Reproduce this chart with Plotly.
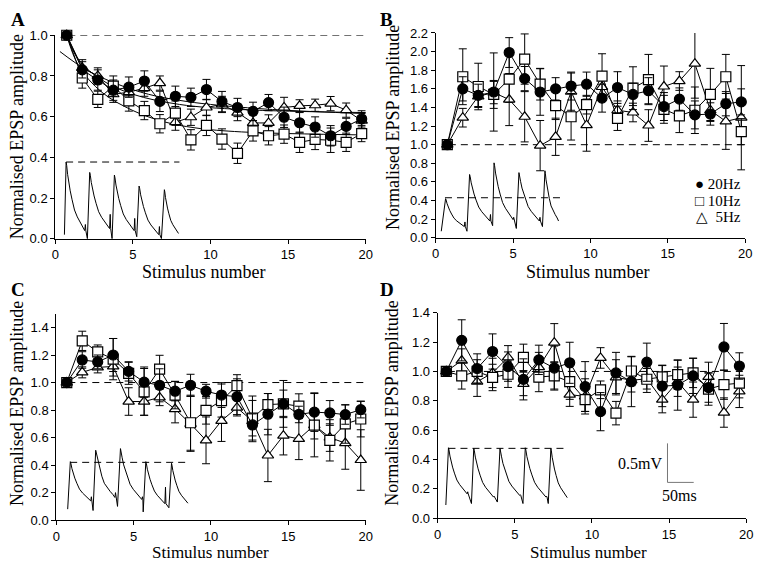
import plotly.graph_objects as go

# stimulus numbers and the small shift each panel plots them with
stim = list(range(1, 21))
x_shift = {"A": 0.26, "B": 0.25, "C": 0.32, "D": 0.44}

# ---- panel A
A_20 = [1.0, 0.83, 0.78, 0.73, 0.745, 0.775, 0.675, 0.70, 0.695, 0.733,
        0.674, 0.645, 0.626, 0.669, 0.597, 0.57, 0.549, 0.506, 0.552, 0.589]
A_10 = [1.0, 0.79, 0.685, 0.75, 0.677, 0.63, 0.565, 0.617, 0.486, 0.557,
        0.49, 0.42, 0.53, 0.506, 0.514, 0.474, 0.488, 0.484, 0.474, 0.517]
A_5 = [1.0, 0.84, 0.80, 0.71, 0.72, 0.74, 0.765, 0.573, 0.597, 0.645,
       0.66, 0.62, 0.569, 0.569, 0.645, 0.653, 0.656, 0.664, 0.632, 0.58]
A_20_err = [0, 0.04, 0.05, 0.05, 0.05, 0.05, 0.05, 0.05, 0.045, 0.05,
            0.05, 0.045, 0.045, 0.04, 0.05, 0.05, 0.05, 0.05, 0.04, 0.04]
A_10_err = [0, 0.05, 0.04, 0.05, 0.05, 0.045, 0.045, 0.06, 0.05, 0.05,
            0.05, 0.05, 0.05, 0.045, 0.045, 0.05, 0.05, 0.06, 0.045, 0.04]
A_5_err = [0, 0.04, 0.04, 0.04, 0.04, 0.04, 0.035, 0.04, 0.04, 0.04,
           0.04, 0.04, 0.04, 0.04, 0.05, 0.03, 0.03, 0.035, 0.035, 0.04]
# fitted decay curves in A
fit_20_x = [0.3, 2, 4, 6, 8, 10, 14, 20]
fit_20_y = [0.92, 0.83, 0.76, 0.71, 0.68, 0.66, 0.635, 0.615]
fit_10_x = [0.74, 1.5, 3, 5, 7, 9, 12, 20]
fit_10_y = [1.0, 0.85, 0.72, 0.63, 0.575, 0.545, 0.525, 0.51]
fit_5_x = [0.74, 1.5, 3, 5, 8, 12, 20]
fit_5_y = [1.0, 0.88, 0.78, 0.71, 0.66, 0.635, 0.62]

# ---- panel B
B_20 = [1.0, 1.60, 1.53, 1.566, 1.99, 1.71, 1.566, 1.60, 1.63, 1.65,
        1.50, 1.614, 1.54, 1.58, 1.41, 1.49, 1.32, 1.33, 1.44, 1.46]
B_10 = [1.0, 1.73, 1.625, 1.54, 1.705, 1.92, 1.65, 1.42, 1.30, 1.43,
        1.737, 1.283, 1.607, 1.70, 1.38, 1.31, 1.37, 1.54, 1.73, 1.14]
B_5 = [1.0, 1.29, 1.52, 1.56, 1.485, 1.30, 0.99, 1.085, 1.57, 1.21,
       1.62, 1.37, 1.346, 1.206, 1.625, 1.684, 1.87, 1.37, 1.25, 1.29]
B_20_err = [0, 0.13, 0.12, 0.42, 0.16, 0.13, 0.25, 0.12, 0.15, 0.13,
            0.15, 0.17, 0.12, 0.14, 0.15, 0.12, 0.15, 0.12, 0.13, 0.14]
B_10_err = [0, 0.30, 0.25, 0.15, 0.25, 0.27, 0.17, 0.15, 0.25, 0.10,
            0.24, 0.13, 0.23, 0.27, 0.15, 0.18, 0.25, 0.28, 0.24, 0.14]
B_5_err = [0, 0.10, 0.12, 0.12, 0.28, 0.27, 0.27, 0.20, 0.20, 0.28,
           0.10, 0.10, 0.10, 0.17, 0.22, 0.10, 0.37, 0.12, 0.30, 0.56]

# ---- panel C
C_20 = [1.0, 1.164, 1.15, 1.20, 1.081, 1.003, 0.98, 0.937, 0.98, 0.937,
        0.909, 0.897, 0.692, 0.77, 0.845, 0.768, 0.785, 0.779, 0.767, 0.803]
C_10 = [1.0, 1.303, 1.223, 1.17, 1.067, 0.932, 1.098, 0.909, 0.708, 0.798,
        0.869, 0.977, 0.742, 0.84, 0.845, 0.828, 0.69, 0.58, 0.699, 0.735]
C_5 = [1.0, 1.074, 1.11, 1.117, 0.862, 0.862, 0.892, 0.807, 0.70, 0.58,
       0.722, 0.817, 0.72, 0.47, 0.614, 0.59, 0.69, 0.60, 0.56, 0.437]
C_20_err = [0, 0.06, 0.05, 0.12, 0.07, 0.11, 0.12, 0.07, 0.08, 0.05,
            0.09, 0.13, 0.08, 0.15, 0.17, 0.06, 0.14, 0.09, 0.07, 0.06]
C_10_err = [0, 0.07, 0.05, 0.15, 0.08, 0.17, 0.10, 0.10, 0.20, 0.10,
            0.12, 0.08, 0.16, 0.08, 0.10, 0.09, 0.23, 0.15, 0.14, 0.13]
C_5_err = [0, 0.04, 0.04, 0.07, 0.10, 0.10, 0.06, 0.10, 0.20, 0.17,
           0.15, 0.06, 0.15, 0.19, 0.14, 0.15, 0.10, 0.10, 0.19, 0.22]

# ---- panel D
D_20 = [1.0, 1.212, 1.02, 1.136, 1.033, 0.946, 1.079, 1.023, 1.059, 0.897,
        0.726, 0.99, 0.93, 1.063, 0.90, 0.906, 0.97, 0.89, 1.167, 1.037]
D_10 = [1.0, 0.97, 1.0, 0.959, 0.981, 1.096, 0.962, 0.97, 0.93, 0.808,
        0.875, 0.716, 1.003, 0.947, 0.963, 0.979, 0.99, 0.88, 0.91, 0.92]
D_5 = [1.0, 1.074, 0.93, 0.99, 1.096, 0.915, 1.03, 1.196, 0.842, 0.83,
       1.092, 0.96, 0.94, 0.95, 0.808, 0.93, 0.808, 0.963, 0.72, 0.864]
D_20_err = [0, 0.14, 0.10, 0.12, 0.10, 0.14, 0.10, 0.15, 0.14, 0.17,
            0.13, 0.14, 0.17, 0.13, 0.14, 0.17, 0.12, 0.10, 0.16, 0.09]
D_10_err = [0, 0.09, 0.08, 0.09, 0.09, 0.09, 0.10, 0.09, 0.12, 0.08,
            0.06, 0.08, 0.10, 0.09, 0.08, 0.10, 0.10, 0.11, 0.10, 0.10]
D_5_err = [0, 0.08, 0.10, 0.10, 0.08, 0.08, 0.10, 0.13, 0.08, 0.12,
           0.07, 0.12, 0.08, 0.07, 0.09, 0.10, 0.12, 0.10, 0.10, 0.11]

# ---- inset EPSP traces (drawn in each panel's own units)
# onset, peak time, peak, baseline, end of decay, level at end, artefact height
A_on = [0.59, 2.07, 3.66, 5.25, 6.84]
A_pk_x = [0.70, 2.22, 3.81, 5.40, 7.03]
A_pk = [0.377, 0.326, 0.313, 0.259, 0.241]
A_base = [0.02, 0.0, 0.0, 0.01, 0.0]
A_end_x = [1.9, 3.5, 5.08, 6.67, 7.94]
A_end = [0.04, 0.05, 0.04, 0.02, 0.026]
A_art = [0.07, 0.12, 0.10, 0.06]

B_on = [0.36, 2.02, 3.68, 5.21, 6.90]
B_pk_x = [0.64, 2.19, 3.77, 5.38, 7.06]
B_pk = [0.42, 0.68, 0.805, 0.70, 0.72]
B_base = [0.07, 0.07, 0.13, 0.10, 0.12]
B_end_x = [1.85, 3.5, 5.0, 6.7, 7.94]
B_end = [0.12, 0.18, 0.195, 0.18, 0.18]
B_art = [0.17, 0.25, 0.22, 0.22]

C_on = [0.74, 2.38, 3.96, 5.62, 7.28]
C_pk_x = [0.91, 2.55, 4.15, 5.79, 7.45]
C_pk = [0.425, 0.508, 0.52, 0.425, 0.413]
C_base = [0.08, 0.07, 0.10, 0.06, 0.09]
C_end_x = [2.23, 3.79, 5.53, 7.02, 8.51]
C_end = [0.14, 0.165, 0.15, 0.12, 0.123]
C_art = [0.17, 0.20, 0.17, 0.24]

D_on = [0.53, 2.19, 3.87, 5.53, 7.17]
D_pk_x = [0.70, 2.34, 4.04, 5.68, 7.34]
D_pk = [0.48, 0.476, 0.476, 0.48, 0.476]
D_base = [0.09, 0.10, 0.11, 0.10, 0.10]
D_end_x = [1.91, 3.62, 5.32, 7.02, 8.4]
D_end = [0.166, 0.144, 0.155, 0.144, 0.14]
D_art = [0.18, 0.15, 0.16, 0.15]

# shape of one EPSP decay (fraction of the way from peak to end)
decay_t = [0.0, 0.03, 0.08, 0.15, 0.22, 0.32, 0.45, 0.6, 0.75, 0.9, 1.0]
decay_frac = [1.0, 0.95, 0.82, 0.68, 0.58, 0.45, 0.3, 0.2, 0.13, 0.06, 0.0]

# dashed line over the inset (level, from, to)
inset_ref = {"A": (0.377, 0.7, 8.0), "B": (0.43, 0.6, 8.3),
             "C": (0.42, 0.9, 8.5), "D": (0.476, 0.7, 8.4)}
ref_level = 1.0

# scale bar in D
bar_x = [14.9, 16.6]
bar_y = [0.244, 0.51]

serif = "Liberation Serif"
sans = "Liberation Sans"

fig = go.Figure()

panels = {
    "A": dict(ax="", series=(A_20, A_10, A_5), err=(A_20_err, A_10_err, A_5_err),
              ep=(A_on, A_pk_x, A_pk, A_base, A_end_x, A_end, A_art)),
    "B": dict(ax="2", series=(B_20, B_10, B_5), err=(B_20_err, B_10_err, B_5_err),
              ep=(B_on, B_pk_x, B_pk, B_base, B_end_x, B_end, B_art)),
    "C": dict(ax="3", series=(C_20, C_10, C_5), err=(C_20_err, C_10_err, C_5_err),
              ep=(C_on, C_pk_x, C_pk, C_base, C_end_x, C_end, C_art)),
    "D": dict(ax="4", series=(D_20, D_10, D_5), err=(D_20_err, D_10_err, D_5_err),
              ep=(D_on, D_pk_x, D_pk, D_base, D_end_x, D_end, D_art)),
}

styles = [  # 20Hz, 10Hz, 5Hz
    dict(symbol="circle", color="black", size=10),
    dict(symbol="square", color="white", size=10),
    dict(symbol="triangle-up", color="white", size=10),
]


def epsp_xy(on, pk_x, pk, base, end_x, end, art):
    xs, ys = [], []
    for i in range(len(on)):
        xs.append(on[i])
        ys.append(base[i])
        for t, f in zip(decay_t, decay_frac):
            xs.append(pk_x[i] + t * (end_x[i] - pk_x[i]))
            ys.append(end[i] + f * (pk[i] - end[i]))
        if i < len(art):
            xs += [end_x[i] + 0.04, end_x[i] + 0.07]
            ys += [art[i], end[i]]
    return xs, ys


shapes = []
for key, p in panels.items():
    xa, ya = "x" + p["ax"], "y" + p["ax"]
    off = x_shift[key]
    xs = [s - off for s in stim]

    ex, ey = epsp_xy(*p["ep"])
    fig.add_trace(go.Scatter(x=ex, y=ey, mode="lines", xaxis=xa, yaxis=ya,
                             line=dict(color="black", width=1), showlegend=False,
                             hoverinfo="skip"))
    lvl, x0, x1 = inset_ref[key]
    shapes.append(dict(type="line", xref=xa, yref=ya, x0=x0, x1=x1, y0=lvl, y1=lvl,
                       line=dict(color="black", width=1, dash="7px,5px")))
    shapes.append(dict(type="line", xref=xa, yref=ya, x0=xs[0] + 0.1, x1=20,
                       y0=ref_level, y1=ref_level,
                       line=dict(color="black", width=1, dash="7px,5px"),
                       layer="below"))

    if key == "A":
        for fx, fy in ((fit_20_x, fit_20_y), (fit_10_x, fit_10_y), (fit_5_x, fit_5_y)):
            fig.add_trace(go.Scatter(x=fx, y=fy, mode="lines", xaxis=xa, yaxis=ya,
                                     line=dict(color="black", width=1, shape="spline"),
                                     showlegend=False, hoverinfo="skip"))

    for idx in (2, 1, 0):
        st = styles[idx]
        fig.add_trace(go.Scatter(
            x=xs, y=p["series"][idx], mode="lines+markers", xaxis=xa, yaxis=ya,
            line=dict(color="black", width=1),
            marker=dict(symbol=st["symbol"], size=st["size"], color=st["color"],
                        line=dict(color="black", width=1.2)),
            error_y=dict(type="data", array=p["err"][idx], color="black",
                         thickness=1, width=4),
            cliponaxis=False, showlegend=False))

# scale bar
fig.add_trace(go.Scatter(x=[bar_x[0], bar_x[0], bar_x[1]], y=[bar_y[1], bar_y[0], bar_y[0]],
                         mode="lines", xaxis="x4", yaxis="y4",
                         line=dict(color="#777", width=1), showlegend=False))

W, H = 764, 571


def ax_common():
    return dict(showline=True, linecolor="black", linewidth=1, ticks="outside",
                ticklen=4, tickcolor="black", showgrid=False, zeroline=False,
                tickfont=dict(family=sans, size=13, color="black"))


def xdom(l, r):
    return [l / W, r / W]


def ydom(bottom, top):
    return [1 - bottom / H, 1 - top / H]


layout_axes = {
    "xaxis": dict(domain=xdom(52, 367), range=[0, 20], tickvals=[0, 5, 10, 15, 20], anchor="y"),
    "yaxis": dict(domain=ydom(238, 29), range=[0, 1.0], tickvals=[0, 0.2, 0.4, 0.6, 0.8, 1.0], anchor="x"),
    "xaxis2": dict(domain=xdom(438, 752), range=[0, 20], tickvals=[0, 5, 10, 15, 20], anchor="y2"),
    "yaxis2": dict(domain=ydom(237, 26.7), range=[0, 2.2],
                   tickvals=[0, 0.2, 0.4, 0.6, 0.8, 1.0, 1.2, 1.4, 1.6, 1.8, 2.0, 2.2], anchor="x2"),
    "xaxis3": dict(domain=xdom(53, 367), range=[0, 20], tickvals=[0, 5, 10, 15, 20], anchor="y3"),
    "yaxis3": dict(domain=ydom(527, 315), range=[0, 1.5], tickvals=[0, 0.2, 0.4, 0.6, 0.8, 1.0, 1.2, 1.4], anchor="x3"),
    "xaxis4": dict(domain=xdom(440, 753), range=[0, 20], tickvals=[0, 5, 10, 15, 20], anchor="y4"),
    "yaxis4": dict(domain=ydom(525, 314), range=[0, 1.4], tickvals=[0, 0.2, 0.4, 0.6, 0.8, 1.0, 1.2, 1.4], anchor="x4"),
}
for k, v in layout_axes.items():
    d = ax_common()
    d.update(v)
    if k.startswith("y"):
        d["tickformat"] = ".1f"
    layout_axes[k] = d

annotations = []
ytitle_pos = [(13, 133), (394, 124), (13, 407), (394, 407)]
for px, py in ytitle_pos:
    annotations.append(dict(x=px / W, y=1 - py / H, xref="paper", yref="paper",
                            text="Normalised EPSP amplitude", textangle=-90, showarrow=False,
                            font=dict(family=serif, size=18, color="black"),
                            xanchor="center", yanchor="middle"))
xtitle_pos = [(203, 272, 18), (593, 272, 18), (210, 560, 17), (593, 560, 17)]
for px, py, fs in xtitle_pos:
    annotations.append(dict(x=px / W, y=1 - py / H, xref="paper", yref="paper",
                            text="Stimulus number", showarrow=False,
                            font=dict(family=serif, size=fs, color="black"),
                            xanchor="center", yanchor="middle"))
label_pos = [("A", 14, 13), ("B", 388, 13), ("C", 14, 290), ("D", 389, 290)]
for t, px, py in label_pos:
    annotations.append(dict(x=px / W, y=1 - py / H, xref="paper", yref="paper",
                            text="<b>%s</b>" % t, showarrow=False,
                            font=dict(family=serif, size=19, color="black"),
                            xanchor="center", yanchor="middle"))

# legend of panel B, written as text
legend_rows = [("\u25cf 20Hz", 182), ("\u25a1 10Hz", 199), ("\u25b3  5Hz", 216)]
for t, py in legend_rows:
    annotations.append(dict(x=750 / W, y=1 - py / H, xref="paper", yref="paper",
                            text=t, showarrow=False, xanchor="right", yanchor="middle",
                            font=dict(family=serif, size=15, color="black")))

# scale bar labels
annotations.append(dict(x=bar_x[0] - 0.2, y=0.37, xref="x4", yref="y4", text="0.5mV",
                        showarrow=False, xanchor="right", yanchor="middle",
                        font=dict(family=serif, size=16, color="black")))
annotations.append(dict(x=(bar_x[0] + bar_x[1]) / 2 - 0.1, y=0.155, xref="x4", yref="y4",
                        text="50ms", showarrow=False, xanchor="center", yanchor="middle",
                        font=dict(family=serif, size=16, color="black")))

fig.update_layout(width=W, height=H, margin=dict(l=0, r=0, t=0, b=0),
                  paper_bgcolor="white", plot_bgcolor="white",
                  shapes=shapes, annotations=annotations, showlegend=False,
                  **layout_axes)

# drop the page's default body margin so the figure sits at the window's corner
fig.write_html("out.html", config={"displayModeBar": False},
               post_script="document.body.style.margin='0px';")
